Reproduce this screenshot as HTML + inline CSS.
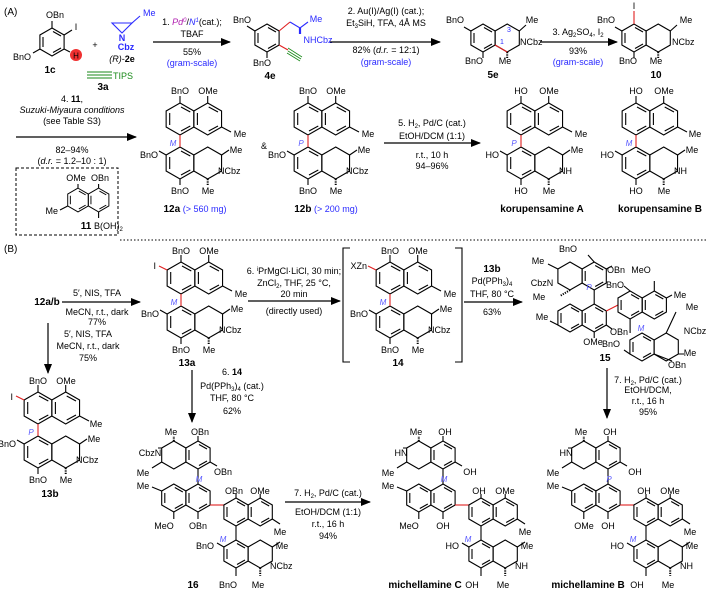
<!DOCTYPE html>
<html><head><meta charset="utf-8"><style>
html,body{margin:0;padding:0;background:#fff}
svg{display:block}
text{font-family:"Liberation Sans",sans-serif;font-size:9px;fill:#000}
.c{text-anchor:middle}.e{text-anchor:end}
.b{font-weight:bold;font-size:10px}
.bl{fill:#2a2aff}.g{fill:#1a8a1a}.p{fill:#b020b0}
.m{fill:#5a5aff;font-style:italic;font-size:8px;text-anchor:middle}
.i{font-style:italic}
</style></head><body>
<svg width="707" height="596" viewBox="0 0 707 596" xmlns="http://www.w3.org/2000/svg">
<defs>
<marker id="ar" markerWidth="10" markerHeight="8" refX="9" refY="4" orient="auto" markerUnits="userSpaceOnUse"><path d="M0,0L10,4L0,8z" fill="#000"/></marker>
<g id="h"><polygon points="0,-14 12.1,-7 12.1,7 0,14 -12.1,7 -12.1,-7" fill="none" stroke="#000" stroke-width="1.1"/></g>
<g id="a"><use href="#h"/><path d="M1,-10.5L9,-6M9,6L1,10.5M-9,5V-5" stroke="#000" stroke-width="1.1" fill="none"/></g>
<g id="H"><polygon points="0,-16 13.86,-8 13.86,8 0,16 -13.86,8 -13.86,-8" fill="none" stroke="#000" stroke-width="1.1"/></g>
<g id="A"><use href="#H"/><path d="M1,-12L10.3,-7M10.3,7L1,12M-10.3,6V-6" stroke="#000" stroke-width="1.1" fill="none"/></g>
<g id="S" stroke="#000" stroke-width="1.1" fill="none">
<use href="#A"/><use href="#A" x="27.7"/><use href="#A" y="44"/><use href="#H" x="27.7" y="44"/>
<path d="M0,-16V-23M27.7,-16V-23M41.6,8L51,13M-13.9,36L-21,32M0,60V66M41.6,36L49,31"/>
<path d="M27.7,60V67" stroke-dasharray="1.2,1.2" stroke-width="2"/>
<path d="M0,16V28" stroke="#e02020"/>
</g>
<g id="D" stroke="#000" stroke-width="1.1" fill="none">
<use href="#h" x="173.8" y="455"/><use href="#a" x="198" y="455"/>
<path d="M198,441V436M210.1,462L217,466M198,469V484M161.7,462L152,468M161.7,448L158,448"/>
<path d="M173.8,441V436" stroke-dasharray="1.2,1.2" stroke-width="2"/>
<use href="#a" x="173.8" y="498"/><use href="#a" x="198" y="498"/>
<path d="M161.7,491L152,487M173.8,512V519M198,512V519"/>
<path d="M210.1,505L223.9,505" stroke="#e02020"/>
<use href="#a" x="236" y="512"/><use href="#a" x="260.2" y="512"/>
<path d="M236,498V494M260.2,498V494M272.3,519L280,524M236,526V540"/>
<use href="#a" x="236" y="554"/><use href="#h" x="260.2" y="554"/>
<path d="M223.9,547L217,543M236,568V576M272.3,547L280,542"/>
<path d="M260.2,568V576" stroke-dasharray="1.2,1.2" stroke-width="2"/>
</g>
</defs>

<!-- ============ (A) row 1 ============ -->
<text x="4" y="15" style="font-size:10px">(A)</text>
<g stroke="#000" stroke-width="1.1" fill="none">
<use href="#a" x="52" y="42"/>
<path d="M52,28V21M64.1,35L72,30M40,49L33,53"/>
<path d="M64.1,49L70,52"/>
</g>
<circle cx="76" cy="55" r="6" fill="#f03030"/>
<text x="76" y="58.5" class="c" style="font-size:8px">H</text>
<text x="55" y="18" class="c">OBn</text>
<text x="76" y="30" class="c">I</text>
<text x="31" y="60" class="e">BnO</text>
<text x="50" y="73" class="c b">1c</text>
<text x="95" y="48" class="c">+</text>
<g stroke="#2a2aff" stroke-width="1.1" fill="none"><path d="M112,23L132,23L122,33Z"/><path d="M132,23L140,16"/></g>
<text x="143" y="16" class="bl">Me</text>
<text x="122" y="41" class="c bl b" style="font-size:9px">N</text>
<text x="126" y="50" class="c bl b" style="font-size:9px">Cbz</text>
<text x="122" y="62" class="c"><tspan class="i">(R)</tspan>-<tspan font-weight="bold">2e</tspan></text>
<path d="M87,72H112M87,75H112M87,78H112" stroke="#1a8a1a" stroke-width="0.9"/>
<text x="113" y="79" class="g">TIPS</text>
<text x="103" y="90" class="c b">3a</text>
<line x1="153" y1="42" x2="230" y2="42" stroke="#000" stroke-width="1.2" marker-end="url(#ar)"/>
<text x="192" y="25" class="c">1. <tspan class="p i">Pd<tspan font-size="6" dy="-3">0</tspan></tspan><tspan dy="3">/</tspan><tspan class="bl i">N<tspan font-size="6" dy="-3">1</tspan></tspan><tspan dy="3">(cat.);</tspan></text>
<text x="192" y="37" class="c">TBAF</text>
<text x="192" y="55" class="c">55%</text>
<text x="192" y="66" class="c bl">(gram-scale)</text>
<!-- 4e -->
<g stroke="#000" stroke-width="1.1" fill="none">
<use href="#a" x="267" y="38"/>
<path d="M254.9,31L247,26M267,52V58"/>
<path d="M279.1,31L290,22" stroke="#e02020"/>
<path d="M290,22L300,28L308,22" stroke="#2a2aff"/>
<path d="M300,28V34" stroke="#2a2aff" stroke-width="2.2"/>
<path d="M279.1,45L288,50" stroke="#e02020"/>
<path d="M288,48L302,57M288,51L301,59M287,53L300,61" stroke="#1a8a1a" stroke-width="0.8"/>
</g>
<text x="242" y="23" class="c">BnO</text>
<text x="262" y="66" class="c">BnO</text>
<text x="316" y="22" class="c bl">Me</text>
<text x="318" y="43" class="c bl">NHCbz</text>
<text x="270" y="79" class="c b">4e</text>
<line x1="330" y1="42" x2="440" y2="42" stroke="#000" stroke-width="1.2" marker-end="url(#ar)"/>
<text x="386" y="14" class="c">2. Au(I)/Ag(I) (cat.);</text>
<text x="386" y="26" class="c">Et<tspan font-size="6" dy="2">3</tspan><tspan dy="-2">SiH, TFA, 4Å MS</tspan></text>
<text x="386" y="53" class="c">82% (<tspan class="i">d.r.</tspan> = 12:1)</text>
<text x="386" y="65" class="c bl">(gram-scale)</text>
<!-- 5e -->
<g stroke="#000" stroke-width="1.1" fill="none">
<use href="#a" x="483" y="38"/><use href="#h" x="507.2" y="38"/>
<path d="M470.9,31L464,27M483,52V58M519.3,31L526,25"/>
<path d="M507.2,52V58" stroke-dasharray="1.2,1.2" stroke-width="2"/>
<path d="M495.1,45L507.2,52" stroke="#e02020"/>
</g>
<text x="455" y="23" class="c">BnO</text>
<text x="532" y="23" class="c">Me</text>
<text x="520" y="45">NCbz</text>
<text x="509" y="32" class="c bl" style="font-size:7px">3</text>
<text x="502" y="44" class="c bl" style="font-size:7px">1</text>
<text x="474" y="64" class="c">BnO</text>
<text x="505" y="64" class="c">Me</text>
<text x="493" y="78" class="c b">5e</text>
<line x1="540" y1="42" x2="617" y2="42" stroke="#000" stroke-width="1.2" marker-end="url(#ar)"/>
<text x="578" y="35" class="c">3. Ag<tspan font-size="6" dy="2">2</tspan><tspan dy="-2">SO</tspan><tspan font-size="6" dy="2">4</tspan><tspan dy="-2">, I</tspan><tspan font-size="6" dy="2">2</tspan></text>
<text x="578" y="54" class="c">93%</text>
<text x="578" y="65" class="c bl">(gram-scale)</text>
<!-- 10 -->
<g stroke="#000" stroke-width="1.1" fill="none">
<use href="#a" x="634" y="38"/><use href="#h" x="658.2" y="38"/>
<path d="M621.9,31L615,27M634,52V58M670.3,31L677,25"/>
<path d="M658.2,52V58" stroke-dasharray="1.2,1.2" stroke-width="2"/>
<path d="M634,24V11" stroke="#e02020"/>
</g>
<text x="634" y="9" class="c">I</text>
<text x="606" y="23" class="c">BnO</text>
<text x="686" y="23" class="c">Me</text>
<text x="672" y="45">NCbz</text>
<text x="628" y="64" class="c">BnO</text>
<text x="656" y="64" class="c">Me</text>
<text x="656" y="78" class="c b">10</text>

<!-- ============ (A) row 2 ============ -->
<line x1="16" y1="137" x2="136" y2="137" stroke="#000" stroke-width="1.2" marker-end="url(#ar)"/>
<text x="72" y="102" class="c">4. <tspan font-weight="bold">11</tspan>,</text>
<text x="72" y="113" class="c i">Suzuki-Miyaura conditions</text>
<text x="72" y="124" class="c">(see Table S3)</text>
<text x="72" y="153" class="c">82–94%</text>
<text x="72" y="164" class="c">(<tspan class="i">d.r.</tspan> = 1.2–10 : 1)</text>
<rect x="16" y="168" width="102" height="67" fill="none" stroke="#000" stroke-width="1" stroke-dasharray="3,2"/>
<g stroke="#000" stroke-width="1.1" fill="none">
<use href="#a" transform="translate(78,200) scale(0.85)"/><use href="#a" transform="translate(98.6,200) scale(0.85)"/>
<path d="M78,188V184M98.6,188V184M67.7,206L60,210M98.6,212V218"/>
</g>
<text x="76" y="181" class="c">OMe</text>
<text x="100" y="181" class="c">OBn</text>
<text x="58" y="214" class="e">Me</text>
<text x="86" y="229" class="c b">11</text>
<text x="94" y="229">B(OH)<tspan font-size="6" dy="2">2</tspan></text>

<!-- 12a -->
<use href="#S" x="180" y="119"/>
<text x="180" y="94" class="c">BnO</text><text x="208" y="94" class="c">OMe</text>
<text x="240" y="137" class="c">Me</text><text x="173" y="146" class="m">M</text>
<text x="158" y="158" class="e">BnO</text><text x="236" y="153" class="c">Me</text>
<text x="218" y="174">NCbz</text>
<text x="180" y="194" class="c">BnO</text><text x="208" y="194" class="c">Me</text>
<text x="195" y="212" class="c"><tspan font-weight="bold" font-size="10">12a</tspan> <tspan class="bl">(&gt; 560 mg)</tspan></text>
<text x="264" y="149" class="c">&amp;</text>
<!-- 12b -->
<use href="#S" x="308" y="119"/>
<text x="308" y="94" class="c">BnO</text><text x="336" y="94" class="c">OMe</text>
<text x="368" y="137" class="c">Me</text><text x="301" y="146" class="m">P</text>
<text x="286" y="158" class="e">BnO</text><text x="364" y="153" class="c">Me</text>
<text x="346" y="174">NCbz</text>
<text x="308" y="194" class="c">BnO</text><text x="336" y="194" class="c">Me</text>
<text x="326" y="212" class="c"><tspan font-weight="bold" font-size="10">12b</tspan> <tspan class="bl">(&gt; 200 mg)</tspan></text>
<line x1="384" y1="143" x2="480" y2="143" stroke="#000" stroke-width="1.2" marker-end="url(#ar)"/>
<text x="432" y="126" class="c">5. H<tspan font-size="6" dy="2">2</tspan><tspan dy="-2">, Pd/C (cat.)</tspan></text>
<text x="432" y="139" class="c">EtOH/DCM (1:1)</text>
<text x="432" y="158" class="c">r.t., 10 h</text>
<text x="432" y="169" class="c">94–96%</text>
<!-- korA -->
<use href="#S" x="521" y="119"/>
<text x="521" y="94" class="c">HO</text><text x="549" y="94" class="c">OMe</text>
<text x="581" y="137" class="c">Me</text><text x="514" y="146" class="m">P</text>
<text x="499" y="158" class="e">HO</text><text x="577" y="153" class="c">Me</text>
<text x="559" y="174">NH</text>
<text x="521" y="194" class="c">HO</text><text x="549" y="194" class="c">Me</text>
<text x="542" y="212" class="c b">korupensamine A</text>
<!-- korB -->
<use href="#S" x="636" y="119"/>
<text x="636" y="94" class="c">HO</text><text x="664" y="94" class="c">OMe</text>
<text x="695" y="137" class="c">Me</text><text x="629" y="146" class="m">M</text>
<text x="614" y="158" class="e">HO</text><text x="692" y="153" class="c">Me</text>
<text x="674" y="174">NH</text>
<text x="636" y="194" class="c">HO</text><text x="664" y="194" class="c">Me</text>
<text x="660" y="212" class="c b">korupensamine B</text>

<line x1="120" y1="240" x2="707" y2="240" stroke="#000" stroke-width="1" stroke-dasharray="1.5,2"/>

<!-- ============ (B) ============ -->
<text x="4" y="252" style="font-size:10px">(B)</text>
<text x="47" y="305" class="c b">12a/b</text>
<line x1="62" y1="302" x2="140" y2="302" stroke="#000" stroke-width="1.2" marker-end="url(#ar)"/>
<text x="97" y="296" class="c">5′, NIS, TFA</text>
<text x="97" y="315" class="c">MeCN, r.t., dark</text>
<text x="97" y="325" class="c">77%</text>
<line x1="48" y1="323" x2="48" y2="373" stroke="#000" stroke-width="1.2" marker-end="url(#ar)"/>
<text x="88" y="337" class="c">5′, NIS, TFA</text>
<text x="88" y="349" class="c">MeCN, r.t., dark</text>
<text x="88" y="361" class="c">75%</text>

<!-- 13b -->
<use href="#S" x="38" y="408"/>
<path d="M24.1,400L16,396" stroke="#e02020" stroke-width="1.1"/>
<text x="38" y="384" class="c">BnO</text><text x="66" y="384" class="c">OMe</text>
<text x="13" y="400" class="e">I</text>
<text x="96" y="427" class="c">Me</text><text x="31" y="435" class="m">P</text>
<text x="16" y="447" class="e">BnO</text><text x="94" y="442" class="c">Me</text>
<text x="76" y="463">NCbz</text>
<text x="38" y="483" class="c">BnO</text><text x="66" y="483" class="c">Me</text>
<text x="50" y="497" class="c b">13b</text>

<!-- 13a -->
<use href="#S" x="181" y="278"/>
<path d="M167.1,270L159,266" stroke="#e02020" stroke-width="1.1"/>
<text x="181" y="254" class="c">BnO</text><text x="209" y="254" class="c">OMe</text>
<text x="156" y="269" class="e">I</text>
<text x="241" y="297" class="c">Me</text><text x="174" y="305" class="m">M</text>
<text x="159" y="317" class="e">BnO</text><text x="237" y="312" class="c">Me</text>
<text x="219" y="333">NCbz</text>
<text x="181" y="353" class="c">BnO</text><text x="209" y="353" class="c">Me</text>
<text x="187" y="366" class="c b">13a</text>

<line x1="248" y1="301" x2="340" y2="301" stroke="#000" stroke-width="1.2" marker-end="url(#ar)"/>
<text x="294" y="274" class="c">6. <tspan font-size="6" dy="-3">i</tspan><tspan dy="3">PrMgCl·LiCl, 30 min;</tspan></text>
<text x="294" y="286" class="c">ZnCl<tspan font-size="6" dy="2">2</tspan><tspan dy="-2">, THF, 25 °C,</tspan></text>
<text x="294" y="297" class="c">20 min</text>
<text x="294" y="314" class="c">(directly used)</text>

<!-- 14 -->
<path d="M350,248H343V362H350M455,248H462V362H455" fill="none" stroke="#000" stroke-width="1.1"/>
<use href="#S" x="390" y="278"/>
<path d="M376.1,270L368,266" stroke="#e02020" stroke-width="1.1"/>
<text x="390" y="254" class="c">BnO</text><text x="418" y="254" class="c">OMe</text>
<text x="367" y="269" class="e">XZn</text>
<text x="450" y="297" class="c">Me</text><text x="383" y="305" class="m">M</text>
<text x="368" y="317" class="e">BnO</text><text x="446" y="312" class="c">Me</text>
<text x="428" y="333">NCbz</text>
<text x="390" y="353" class="c">BnO</text><text x="418" y="353" class="c">Me</text>
<text x="398" y="366" class="c b">14</text>

<line x1="464" y1="302" x2="522" y2="302" stroke="#000" stroke-width="1.2" marker-end="url(#ar)"/>
<text x="492" y="272" class="c b">13b</text>
<text x="492" y="284" class="c">Pd(PPh<tspan font-size="6" dy="2">3</tspan><tspan dy="-2">)</tspan><tspan font-size="6" dy="2">4</tspan></text>
<text x="492" y="297" class="c">THF, 80 °C</text>
<text x="492" y="315" class="c">63%</text>

<!-- 15 -->
<g stroke="#000" stroke-width="1.1" fill="none">
<use href="#h" x="570" y="276"/><use href="#a" x="594.2" y="276"/>
<path d="M594.2,262L588,255M606.3,269L612,266M594.2,290V304M557.9,269L548,264"/>
<path d="M570,290L560,296" stroke-dasharray="1.2,1.2" stroke-width="2"/>
<use href="#a" x="570" y="318"/><use href="#a" x="594.2" y="318"/>
<path d="M557.9,325L550,321M594.2,332V338M606.3,325L612,329"/>
<path d="M606.3,311L618,305" stroke="#e02020"/>
<use href="#a" x="630.1" y="305"/><use href="#a" x="654.3" y="305"/>
<path d="M630.1,291L624,286M654.3,291V281M666.4,298L672,295M630.1,319V333"/>
<use href="#a" x="642" y="347"/><use href="#h" x="666.2" y="347"/>
<path d="M629.9,354L624,350M654.1,354L672,361M666.2,333L676,312M678.3,354L684,354"/>
</g>
<text x="568" y="252" class="c">BnO</text>
<text x="538" y="264" class="c">Me</text>
<text x="542" y="286" class="c">CbzN</text>
<text x="539" y="300" class="c">Me</text>
<text x="616" y="273" class="c">OBn</text>
<text x="641" y="273" class="c">MeO</text>
<text x="615" y="288" class="c">BnO</text>
<text x="589" y="290" class="m">P</text>
<text x="680" y="298" class="c">Me</text>
<text x="542" y="320" class="c">Me</text>
<text x="692" y="310" class="c">Me</text>
<text x="619" y="335" class="c">OBn</text>
<text x="641" y="331" class="m">M</text>
<text x="695" y="334" class="c">NCbz</text>
<text x="593" y="345" class="c">OMe</text>
<text x="620" y="347" class="e">BnO</text>
<text x="690" y="356" class="c">Me</text>
<text x="677" y="368" class="c">OBn</text>
<text x="605" y="361" class="c b">15</text>

<line x1="607" y1="368" x2="607" y2="418" stroke="#000" stroke-width="1.2" marker-end="url(#ar)"/>
<text x="648" y="383" class="c">7. H<tspan font-size="6" dy="2">2</tspan><tspan dy="-2">, Pd/C (cat.)</tspan></text>
<text x="648" y="393" class="c">EtOH/DCM,</text>
<text x="648" y="404" class="c">r.t., 16 h</text>
<text x="648" y="415" class="c">95%</text>

<line x1="192" y1="370" x2="192" y2="422" stroke="#000" stroke-width="1.2" marker-end="url(#ar)"/>
<text x="232" y="375" class="c">6. <tspan font-weight="bold">14</tspan></text>
<text x="232" y="389" class="c">Pd(PPh<tspan font-size="6" dy="2">3</tspan><tspan dy="-2">)</tspan><tspan font-size="6" dy="2">4</tspan><tspan dy="-2"> (cat.)</tspan></text>
<text x="232" y="401" class="c">THF, 80 °C</text>
<text x="232" y="414" class="c">62%</text>

<!-- 16 -->
<use href="#D"/>
<text x="171" y="435" class="c">Me</text><text x="200" y="435" class="c">OBn</text>
<text x="150" y="456" class="c">CbzN</text>
<text x="143" y="476" class="c">Me</text><text x="223" y="475" class="c">OBn</text>
<text x="199" y="482" class="m">M</text>
<text x="143" y="489" class="c">Me</text>
<text x="234" y="494" class="c">OBn</text><text x="260" y="494" class="c">OMe</text>
<text x="164" y="529" class="c">MeO</text><text x="198" y="529" class="c">OBn</text>
<text x="280" y="535" class="c">Me</text>
<text x="223" y="542" class="m">M</text>
<text x="214" y="549" class="e">BnO</text><text x="282" y="549" class="c">Me</text>
<text x="270" y="569">NCbz</text>
<text x="193" y="588" class="c b">16</text>
<text x="228" y="588" class="c">BnO</text><text x="258" y="588" class="c">Me</text>

<line x1="285" y1="502" x2="370" y2="502" stroke="#000" stroke-width="1.2" marker-end="url(#ar)"/>
<text x="328" y="496" class="c">7. H<tspan font-size="6" dy="2">2</tspan><tspan dy="-2">, Pd/C (cat.)</tspan></text>
<text x="328" y="515" class="c">EtOH/DCM (1:1)</text>
<text x="328" y="527" class="c">r.t., 16 h</text>
<text x="328" y="539" class="c">94%</text>

<!-- michellamine C -->
<use href="#D" x="245"/>
<text x="416" y="435" class="c">Me</text><text x="445" y="435" class="c">OH</text>
<text x="401" y="456" class="c">HN</text>
<text x="388" y="476" class="c">Me</text><text x="470" y="475" class="c">OH</text>
<text x="444" y="482" class="m">M</text>
<text x="388" y="489" class="c">Me</text>
<text x="479" y="494" class="c">OH</text><text x="505" y="494" class="c">OMe</text>
<text x="409" y="529" class="c">MeO</text><text x="443" y="529" class="c">OH</text>
<text x="525" y="535" class="c">Me</text>
<text x="468" y="542" class="m">M</text>
<text x="459" y="549" class="e">HO</text><text x="527" y="549" class="c">Me</text>
<text x="515" y="569">NH</text>
<text x="425" y="588" class="c b">michellamine C</text>
<text x="472" y="588" class="c">OH</text><text x="503" y="588" class="c">Me</text>

<!-- michellamine B -->
<use href="#D" x="410"/>
<text x="581" y="435" class="c">Me</text><text x="610" y="435" class="c">OH</text>
<text x="566" y="456" class="c">HN</text>
<text x="553" y="476" class="c">Me</text><text x="635" y="475" class="c">OH</text>
<text x="609" y="482" class="m">P</text>
<text x="553" y="489" class="c">Me</text>
<text x="644" y="494" class="c">OH</text><text x="670" y="494" class="c">OMe</text>
<text x="584" y="529" class="c">OMe</text><text x="608" y="529" class="c">OH</text>
<text x="690" y="535" class="c">Me</text>
<text x="633" y="542" class="m">M</text>
<text x="624" y="549" class="e">HO</text><text x="692" y="549" class="c">Me</text>
<text x="680" y="569">NH</text>
<text x="588" y="588" class="c b">michellamine B</text>
<text x="637" y="588" class="c">OH</text><text x="668" y="588" class="c">Me</text>
</svg>
</body></html>
